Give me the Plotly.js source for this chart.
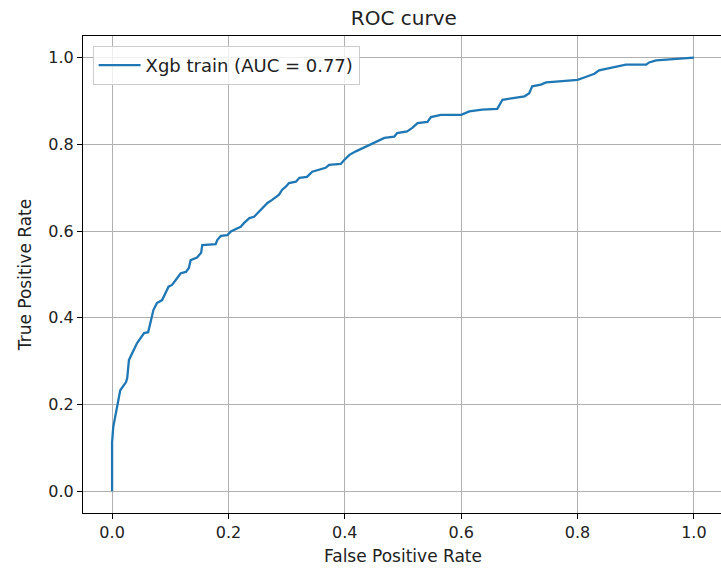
<!DOCTYPE html>
<html>
<head>
<meta charset="utf-8">
<script src="https://cdn.plot.ly/plotly-3.0.1.min.js"></script>
<style>
html, body { margin: 0; padding: 0; overflow: hidden; background: #fff; }
#chart { width: 723px; height: 571px; }
</style>
</head>
<body>
<div id="chart"></div>
<script>
// ROC curve
const seriesName = "Xgb train (AUC = 0.77)";
const fpr = [0, 0, 0.002, 0.006, 0.010, 0.014, 0.024, 0.026, 0.029, 0.038, 0.043, 0.055, 0.062, 0.067, 0.071, 0.077, 0.086,
  0.097, 0.103, 0.112, 0.118, 0.127, 0.132, 0.135, 0.146, 0.153, 0.155, 0.178, 0.181, 0.187, 0.198, 0.204, 0.210,
  0.221, 0.227, 0.236, 0.244, 0.253, 0.258, 0.267, 0.275, 0.287, 0.292, 0.299, 0.304, 0.316, 0.322, 0.335, 0.344,
  0.356, 0.367, 0.373, 0.393, 0.399, 0.408, 0.419, 0.430, 0.442, 0.453, 0.468, 0.485, 0.490, 0.507, 0.516, 0.525,
  0.542, 0.548, 0.565, 0.600, 0.614, 0.636, 0.662, 0.671, 0.691, 0.709, 0.717, 0.722, 0.737, 0.746, 0.763, 0.800,
  0.815, 0.829, 0.837, 0.855, 0.875, 0.883, 0.918, 0.923, 0.935, 0.961, 0.997, 1.0];
const tpr = [0, 0.113, 0.148, 0.176, 0.203, 0.233, 0.252, 0.261, 0.303, 0.326, 0.342, 0.365, 0.367, 0.395, 0.418, 0.434, 0.441,
  0.472, 0.476, 0.492, 0.503, 0.506, 0.515, 0.533, 0.539, 0.550, 0.568, 0.570, 0.580, 0.589, 0.591, 0.599, 0.603,
  0.610, 0.619, 0.630, 0.633, 0.645, 0.654, 0.665, 0.672, 0.684, 0.695, 0.703, 0.711, 0.714, 0.723, 0.725, 0.737,
  0.741, 0.746, 0.753, 0.755, 0.764, 0.776, 0.784, 0.791, 0.799, 0.807, 0.815, 0.818, 0.826, 0.830, 0.838, 0.849,
  0.852, 0.863, 0.868, 0.868, 0.876, 0.880, 0.882, 0.903, 0.907, 0.911, 0.918, 0.934, 0.938, 0.943, 0.945, 0.949,
  0.956, 0.963, 0.971, 0.976, 0.980, 0.984, 0.984, 0.989, 0.994, 0.997, 1.0, 1.0];
const tickVals = [0, 0.2, 0.4, 0.6, 0.8, 1.0];
const tickText = ["0.0", "0.2", "0.4", "0.6", "0.8", "1.0"];

const font = "DejaVu Sans, sans-serif";
const trace = {
  x: fpr, y: tpr, type: "scatter", mode: "lines", name: seriesName,
  line: { color: "#1f77b4", width: 2.3 }
};
const axisCommon = {
  range: [-0.05, 1.05], tickvals: tickVals, ticktext: tickText,
  showgrid: true, gridcolor: "#b0b0b0", gridwidth: 1,
  zeroline: false, showline: true, linecolor: "#000", linewidth: 1, mirror: true,
  ticks: "outside", ticklen: 5, tickcolor: "#000", tickwidth: 1,
  tickfont: { family: font, size: 16, color: "#222" }
};
const layout = {
  width: 723, height: 571,
  margin: { l: 83, r: 0, t: 36, b: 58 },
  paper_bgcolor: "#fff", plot_bgcolor: "#fff",
  title: { text: "ROC curve", font: { family: font, size: 20, color: "#222" }, x: 0.5585, xanchor: "center", y: 0.968, yanchor: "middle" },
  xaxis: Object.assign({}, axisCommon, { title: { text: "False Positive Rate", font: { family: font, size: 17, color: "#222" }, standoff: 8 } }),
  yaxis: Object.assign({}, axisCommon, { title: { text: "True Positive Rate", font: { family: font, size: 17, color: "#222" }, standoff: 12 } }),
  showlegend: true,
  legend: { x: 0.015, y: 0.979, xanchor: "left", yanchor: "top", bgcolor: "rgba(255,255,255,0.8)", bordercolor: "#cccccc", borderwidth: 1, itemwidth: 42, font: { family: font, size: 18, color: "#222" } }
};
Plotly.newPlot("chart", [trace], layout, { displayModeBar: false, staticPlot: true });
</script>
</body>
</html>
